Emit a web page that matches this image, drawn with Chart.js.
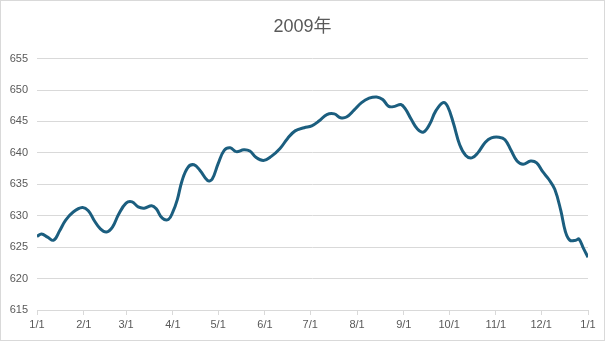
<!DOCTYPE html>
<html>
<head>
<meta charset="utf-8">
<script src="https://cdn.jsdelivr.net/npm/chart.js@4"></script>
<style>
  body { margin: 0; background: #fff; }
  #wrap { width: 605px; height: 341px; box-sizing: border-box; border: 1px solid #d9d9d9; }
</style>
</head>
<body>
<div id="wrap"><canvas id="lineChart"></canvas></div>
<script>
// day of year (0 = 1/1) and the reading for that day
const days = [0, 3, 7, 11, 15, 19, 24, 30, 34, 38, 42, 46, 50, 54, 59, 63, 67, 71, 76, 79,
    83, 87, 90, 93, 96, 100, 104, 108, 113, 116, 120, 124, 128, 132, 137, 141, 145, 150, 155, 161,
    166, 171, 177, 182, 187, 192, 197, 201, 205, 210, 215, 220, 225, 229, 233, 237, 241, 244, 248, 252,
    256, 260, 264, 269, 272, 276, 280, 284, 288, 292, 297, 301, 306, 310, 314, 318, 322, 327, 331, 335,
    339, 343, 347, 350, 353, 357, 359, 362, 365];
const values = [626.7, 627.1, 626.6, 626.1, 627.6, 629.3, 630.6, 631.3, 630.8, 629.2, 627.9, 627.4, 628.2, 630.2, 632.0, 632.2, 631.4, 631.2, 631.6, 631.1,
    629.6, 629.4, 630.6, 632.6, 635.5, 637.7, 638.1, 637.2, 635.6, 635.8, 638.3, 640.4, 640.8, 640.2, 640.5, 640.3, 639.3, 638.8, 639.4, 640.7,
    642.3, 643.5, 644.0, 644.3, 645.1, 646.1, 646.2, 645.6, 645.7, 646.8, 648.0, 648.7, 648.9, 648.5, 647.4, 647.4, 647.7, 647.0, 645.3, 643.8,
    643.3, 644.5, 646.6, 648.0, 647.4, 644.6, 641.3, 639.6, 639.2, 640.0, 641.7, 642.4, 642.5, 642.1, 640.4, 638.7, 638.2, 638.7, 638.4, 637.0,
    635.8, 634.2, 630.8, 627.5, 626.1, 626.1, 626.3, 624.8, 623.4];

// month ticks
const tickDays = [0, 31, 59, 90, 120, 151, 181, 212, 243, 273, 304, 334, 365];
const tickLabels = ['1/1', '2/1', '3/1', '4/1', '5/1', '6/1', '7/1', '8/1', '9/1', '10/1', '11/1', '12/1', '1/1'];

const font = "'Liberation Sans', Arial, 'Noto Sans CJK SC', sans-serif";
const ctx = document.getElementById('lineChart').getContext('2d');

new Chart(ctx, {
    type: 'line',
    data: {
        datasets: [{
            label: '2009年',
            data: days.map((d, i) => ({ x: d, y: values[i] })),
            borderColor: '#1b5e7f',
            borderWidth: 3,
            pointRadius: 0,
            tension: 0.4,
            fill: false
        }]
    },
    options: {
        responsive: true,
        maintainAspectRatio: false,
        animation: false,
        layout: { padding: { top: 1, right: 0, left: 0, bottom: 0 } },
        plugins: {
            legend: { display: false },
            tooltip: { enabled: false },
            title: {
                display: true,
                text: '2009年',
                color: '#595959',
                font: { family: font, size: 18, weight: 'normal' },
                padding: { top: 14, bottom: 21 }
            }
        },
        scales: {
            x: {
                type: 'linear',
                min: 0,
                max: 365,
                afterBuildTicks: (scale) => {
                    scale.ticks = tickDays.map(v => ({ value: v }));
                },
                afterFit: (scale) => {
                    scale.height = 30;
                    scale.paddingRight = 16;
                },
                ticks: {
                    autoSkip: false,
                    maxRotation: 0,
                    color: '#595959',
                    font: { family: font, size: 11 },
                    padding: 3,
                    callback: (v) => tickLabels[tickDays.indexOf(v)]
                },
                grid: { drawOnChartArea: false, drawTicks: true, tickLength: 5, color: '#d9d9d9' },
                border: { color: '#d9d9d9' }
            },
            y: {
                min: 615,
                max: 655,
                afterFit: (scale) => { scale.width = 36; },
                ticks: {
                    stepSize: 5,
                    color: '#595959',
                    font: { family: font, size: 11 },
                    padding: 9
                },
                grid: { color: '#d9d9d9', drawTicks: false },
                border: { display: false }
            }
        }
    }
});
</script>
</body>
</html>
